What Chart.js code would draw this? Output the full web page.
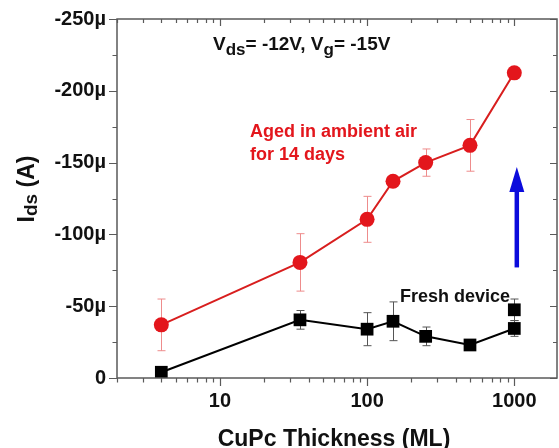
<!DOCTYPE html>
<html>
<head>
<meta charset="utf-8">
<script src="https://cdn.jsdelivr.net/npm/chart.js@4/dist/chart.umd.min.js"></script>
<style>
  html, body { margin: 0; padding: 0; background: #fff; }
  #wrap { width: 559px; height: 448px; }
</style>
</head>
<body>
<div id="wrap"><canvas id="c" width="559" height="448"></canvas></div>
<script>
// CuPc thickness (monolayers) for each device
const thickness = [4, 35, 100, 150, 250, 500, 1000];

// Drain current in µA, device aged 14 days in ambient air
const agedIds = [-37, -80.5, -110.5, -137, -150, -162, -212.5];
const agedErr = [18, 20, 16, 0, 9.5, 18, 0];

// Drain current in µA, fresh device
const freshIds = [-4, -40.5, -34, -39.5, -29, -23, -34.5];
const freshErr = [0, 6.5, 11.5, 13.5, 6.5, 0, 5.5];

// Extra fresh-device measurement at 1000 ML (plotted without a line)
const freshExtraX = [1000];
const freshExtraIds = [-47.5];
const freshExtraErr = [7.5];

// Labelled ticks
const xTickLabels = [10, 100, 1000];
const yTickLabels = [0, -50, -100, -150, -200, -250];

// Blue arrow (thickness, start current, tip current)
const arrowX = 1040;
const arrowFrom = -77;
const arrowTo = -147;

const FONT = '"Liberation Sans", Arial, sans-serif';
const RED = '#e3161c';

function pts(xs, ys) { return xs.map((v, i) => ({ x: v, y: ys[i] })); }

function drawErrors(ctx, xs, ys, xv, yv, ev, color) {
  ctx.save();
  ctx.strokeStyle = color;
  ctx.lineWidth = 1;
  xv.forEach((v, i) => {
    const e = ev[i];
    if (!e) return;
    const px = Math.round(xs.getPixelForValue(v)) + 0.5;
    const top = ys.getPixelForValue(yv[i] - e);
    const bot = ys.getPixelForValue(yv[i] + e);
    ctx.beginPath();
    ctx.moveTo(px, top); ctx.lineTo(px, bot);
    ctx.moveTo(px - 4, top); ctx.lineTo(px + 4, top);
    ctx.moveTo(px - 4, bot); ctx.lineTo(px + 4, bot);
    ctx.stroke();
  });
  ctx.restore();
}

// Draw a run of text pieces with individual sizes / baseline shifts
function richWidth(ctx, parts) {
  let w = 0;
  parts.forEach(p => { ctx.font = 'bold ' + p.size + 'px ' + FONT; w += ctx.measureText(p.t).width; });
  return w;
}
function drawRich(ctx, parts, x, y) {
  let cx = x;
  parts.forEach(p => {
    ctx.font = 'bold ' + p.size + 'px ' + FONT;
    ctx.fillText(p.t, cx, y + (p.dy || 0));
    cx += ctx.measureText(p.t).width;
  });
}

const overlay = {
  id: 'overlay',
  beforeDatasetsDraw(chart) {
    const { ctx, scales: { x, y } } = chart;
    drawErrors(ctx, x, y, thickness, agedIds, agedErr, '#ee8c8c');
    drawErrors(ctx, x, y, thickness, freshIds, freshErr, '#555');
    drawErrors(ctx, x, y, freshExtraX, freshExtraIds, freshExtraErr, '#555');
  },
  afterDraw(chart) {
    const { ctx, chartArea: a, scales: { x, y } } = chart;
    ctx.save();

    // frame
    ctx.strokeStyle = '#5a5a5a';
    ctx.lineWidth = 1.5;
    ctx.strokeRect(a.left, a.top, a.right - a.left, a.bottom - a.top);

    // x ticks: outward on bottom, inward on top
    ctx.lineWidth = 1.2;
    ctx.beginPath();
    for (let k = 0; k <= 3; k++) {
      for (let m = 1; m <= 9; m++) {
        const v = m * Math.pow(10, k);
        if (v < x.min || v > x.max) continue;
        const px = Math.round(x.getPixelForValue(v)) + 0.5;
        const major = m === 1;
        ctx.moveTo(px, a.bottom); ctx.lineTo(px, a.bottom + (major ? 8 : 4.5));
        ctx.moveTo(px, a.top); ctx.lineTo(px, a.top + (major ? 7 : 4));
      }
    }
    // y ticks: outward on left, inward on right
    for (let v = -250; v <= 0; v += 25) {
      const py = Math.round(y.getPixelForValue(v)) + 0.5;
      const major = v % 50 === 0;
      ctx.moveTo(a.left, py); ctx.lineTo(a.left - (major ? 8 : 4.5), py);
      ctx.moveTo(a.right, py); ctx.lineTo(a.right - (major ? 7 : 4), py);
    }
    ctx.stroke();

    // arrow
    const ax = x.getPixelForValue(arrowX);
    const ay0 = y.getPixelForValue(arrowFrom);
    const ay1 = y.getPixelForValue(arrowTo);
    ctx.strokeStyle = '#0b0bdc';
    ctx.fillStyle = '#0b0bdc';
    ctx.lineWidth = 4.5;
    ctx.beginPath();
    ctx.moveTo(ax, ay0); ctx.lineTo(ax, ay1 + 20);
    ctx.stroke();
    ctx.beginPath();
    ctx.moveTo(ax, ay1);
    ctx.lineTo(ax - 7.5, ay1 + 25);
    ctx.lineTo(ax + 7.5, ay1 + 25);
    ctx.closePath();
    ctx.fill();

    // annotations
    ctx.fillStyle = '#111';
    ctx.textBaseline = 'alphabetic';
    ctx.textAlign = 'left';
    drawRich(ctx, [
      { t: 'V', size: 19 }, { t: 'ds', size: 17, dy: 5 },
      { t: '= -12V, V', size: 19 }, { t: 'g', size: 17, dy: 5 },
      { t: '= -15V', size: 19 }
    ], 213, 50);

    ctx.fillStyle = RED;
    ctx.font = 'bold 18px ' + FONT;
    ctx.fillText('Aged in ambient air', 250, 136.5);
    ctx.fillText('for 14 days', 250, 159.5);

    ctx.fillStyle = '#111';
    ctx.fillText('Fresh device', 400, 301.5);

    // axis titles
    ctx.font = 'bold 23px ' + FONT;
    ctx.textAlign = 'center';
    ctx.fillText('CuPc Thickness (ML)', 334, 446);

    ctx.textAlign = 'left';
    const yt = [{ t: 'I', size: 23 }, { t: 'ds', size: 19, dy: 3 }, { t: ' (A)', size: 23 }];
    const w = richWidth(ctx, yt);
    ctx.translate(34, 189);
    ctx.rotate(-Math.PI / 2);
    drawRich(ctx, yt, -w / 2, 0);

    ctx.restore();
  }
};

new Chart(document.getElementById('c'), {
  type: 'line',
  data: {
    datasets: [
      {
        label: 'Fresh device',
        data: pts(thickness, freshIds),
        borderColor: '#000',
        backgroundColor: '#000',
        borderWidth: 2,
        pointStyle: 'rect',
        pointRadius: 9,
        pointBorderWidth: 0,
        pointHoverRadius: 9
      },
      {
        label: 'Fresh device (1000 ML, second)',
        data: pts(freshExtraX, freshExtraIds),
        showLine: false,
        borderColor: '#000',
        backgroundColor: '#000',
        pointStyle: 'rect',
        pointRadius: 9,
        pointBorderWidth: 0
      },
      {
        label: 'Aged in ambient air for 14 days',
        data: pts(thickness, agedIds),
        borderColor: '#d81e1e',
        backgroundColor: RED,
        borderWidth: 2,
        pointStyle: 'circle',
        pointRadius: 7.5,
        pointBorderWidth: 0,
        pointHoverRadius: 7.5
      }
    ]
  },
  options: {
    responsive: false,
    animation: false,
    devicePixelRatio: 1,
    events: [],
    layout: { autoPadding: false, padding: { top: 19, right: 2, left: 0, bottom: 0 } },
    plugins: { legend: { display: false }, tooltip: { enabled: false } },
    scales: {
      x: {
        type: 'logarithmic',
        min: 2,
        max: 1950,
        grid: { display: false, drawTicks: false },
        border: { display: false },
        afterFit(s) { s.height = 70; s.paddingLeft = 0; s.paddingRight = 0; },
        ticks: {
          autoSkip: false,
          maxRotation: 0,
          padding: 11,
          color: '#111',
          font: { family: FONT, size: 20, weight: 'bold' },
          callback(v) { return xTickLabels.includes(v) ? String(v) : ''; }
        }
      },
      y: {
        type: 'linear',
        reverse: true,
        min: -250,
        max: 0,
        grid: { display: false, drawTicks: false },
        border: { display: false },
        afterFit(s) { s.width = 117; s.paddingTop = 0; s.paddingBottom = 0; },
        ticks: {
          stepSize: 50,
          padding: 11,
          color: '#111',
          font: { family: FONT, size: 20, weight: 'bold' },
          callback(v) { return yTickLabels.includes(v) ? (v === 0 ? '0' : v + 'µ') : ''; }
        }
      }
    }
  },
  plugins: [overlay]
});
</script>
</body>
</html>
